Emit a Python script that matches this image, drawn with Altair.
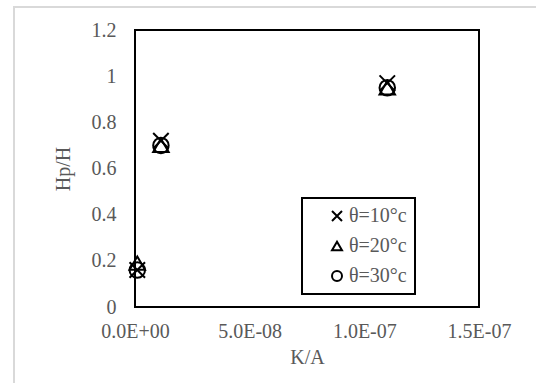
import altair as alt
import pandas as pd

# Series: permeability ratio K/A against relative height Hp/H at three temperatures
series_names = ["θ=10°c", "θ=20°c", "θ=30°c"]
ka_values = [1.0e-9, 1.13e-8, 1.10e-7]
hp_10 = [0.16, 0.72, 0.97]
hp_20 = [0.19, 0.70, 0.95]
hp_30 = [0.16, 0.70, 0.95]

x_ticks = [0, 5e-8, 1e-7, 1.5e-7]
y_ticks = [0, 0.2, 0.4, 0.6, 0.8, 1.0, 1.2]

rows = []
for name, ys in zip(series_names, [hp_10, hp_20, hp_30]):
    for k, h in zip(ka_values, ys):
        rows.append({"series": name, "KA": k, "HpH": h})
df = pd.DataFrame(rows)

FONT = "Liberation Serif"
GREY = "#595959"
W, H = 344, 277

x_cross = "M-1,-1L1,1M1,-1L-1,1"

# light outer frame of the chart area (left and top edges visible)
frame = alt.Chart(pd.DataFrame({"a": [0]})).mark_rect(
    fill=None, stroke="#d9d9d9", strokeWidth=2, clip=False
).encode(
    x=alt.value(-121), x2=alt.value(430),
    y=alt.value(-23), y2=alt.value(380),
)

points = alt.Chart(df).mark_point(
    filled=False, stroke="black", strokeWidth=2, size=240, opacity=1
).encode(
    x=alt.X("KA:Q", scale=alt.Scale(domain=[0, 1.5e-7], nice=False, zero=False),
            axis=alt.Axis(
                values=x_ticks, title="K/A", grid=False, ticks=False, tickSize=0,
                domain=False, labelPadding=14, labelFlush=False, labelAlign="center",
                labelExpr="replace(replace(format(datum.value, '.1e'), 'e-', 'E-0'), 'e+', 'E+0')",
                titleY=50, titleBaseline="middle",
            )),
    y=alt.Y("HpH:Q", scale=alt.Scale(domain=[0, 1.2], nice=False),
            axis=alt.Axis(
                values=y_ticks, title="Hp/H", grid=False, ticks=False, tickSize=0,
                domain=False, labelPadding=19, format="~g", labelFlush=False,
                titleX=-72, titleY=H / 2, titleBaseline="middle", titleAlign="center",
            )),
    shape=alt.Shape("series:N",
                    scale=alt.Scale(domain=series_names,
                                    range=[x_cross, "triangle-up", "circle"]),
                    legend=alt.Legend(
                        title=None, orient="none", legendX=167, legendY=168,
                        strokeColor="black", padding=8, symbolOffset=17,
                        symbolSize=100, symbolStrokeWidth=2, symbolStrokeColor="black",
                        symbolFillColor="transparent", labelOffset=2,
                        labelExpr="datum.label + '\u00a0\u00a0\u00a0\u00a0\u00a0\u00a0'",
                        rowPadding=10,
                    )),
)

chart = alt.layer(frame, points).properties(
    width=W, height=H,
    autosize=alt.AutoSizeParams(type="none"),
    padding={"left": 135, "top": 30, "right": 57, "bottom": 76},
    background="white",
).configure_view(
    stroke="black", strokeWidth=2
).configure_axis(
    labelFont=FONT, labelFontSize=20, labelColor=GREY,
    titleFont=FONT, titleFontSize=20, titleColor=GREY, titleFontWeight="normal",
).configure_legend(
    labelFont=FONT, labelFontSize=20, labelColor=GREY,
    strokeWidth=2,
)

chart.save("out.html", embed_options={"renderer": "svg", "actions": False})
